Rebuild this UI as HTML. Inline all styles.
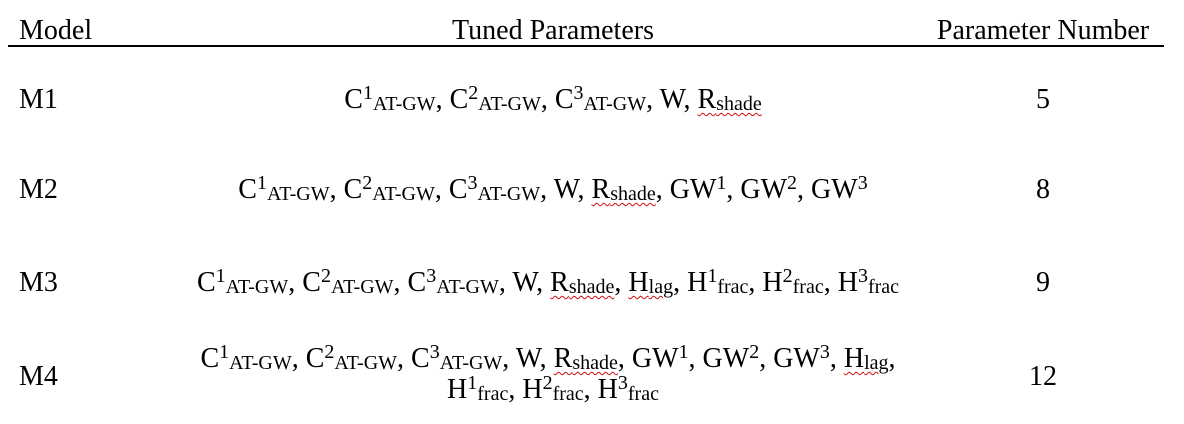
<!DOCTYPE html>
<html><head><meta charset="utf-8">
<style>
body{margin:0;width:1184px;height:424px;background:#fff;font-family:"Liberation Serif",serif;color:#000;position:relative;overflow:hidden}
.t{position:absolute;font-size:28px;white-space:nowrap;line-height:30px}
.c{transform:translateX(-50%);text-align:center}
sub{font-size:20px;vertical-align:-2px;line-height:0}
sup{font-size:20px;vertical-align:9px;line-height:0}
.sq{text-decoration:underline wavy #d01010;text-decoration-thickness:1px;text-underline-offset:4px}
#rule{position:absolute;left:8px;top:45px;width:1156px;height:2px;background:#000}
</style></head><body>
<div class="t" style="left:19px;top:16px">Model</div>
<div class="t c" style="left:553px;top:16px">Tuned Parameters</div>
<div class="t c" style="left:1043px;top:16px">Parameter Number</div>
<div id="rule"></div>

<div class="t" style="left:19px;top:85px">M1</div>
<div class="t c" style="left:553px;top:85px">C<sup>1</sup><sub>AT-GW</sub>, C<sup>2</sup><sub>AT-GW</sub>, C<sup>3</sup><sub>AT-GW</sub>, W, <span class="sq">R<sub>shade</sub></span></div>
<div class="t c" style="left:1043px;top:85px">5</div>

<div class="t" style="left:19px;top:175px">M2</div>
<div class="t c" style="left:553px;top:175px">C<sup>1</sup><sub>AT-GW</sub>, C<sup>2</sup><sub>AT-GW</sub>, C<sup>3</sup><sub>AT-GW</sub>, W, <span class="sq">R<sub>shade</sub></span>, GW<sup>1</sup>, GW<sup>2</sup>, GW<sup>3</sup></div>
<div class="t c" style="left:1043px;top:175px">8</div>

<div class="t" style="left:19px;top:268px">M3</div>
<div class="t c" style="left:548px;top:268px">C<sup>1</sup><sub>AT-GW</sub>, C<sup>2</sup><sub>AT-GW</sub>, C<sup>3</sup><sub>AT-GW</sub>, W, <span class="sq">R<sub>shade</sub></span>, <span class="sq">H<sub>lag</sub></span>, H<sup>1</sup><sub>frac</sub>, H<sup>2</sup><sub>frac</sub>, H<sup>3</sup><sub>frac</sub></div>
<div class="t c" style="left:1043px;top:268px">9</div>

<div class="t" style="left:19px;top:362px">M4</div>
<div class="t c" style="left:548px;top:344px">C<sup>1</sup><sub>AT-GW</sub>, C<sup>2</sup><sub>AT-GW</sub>, C<sup>3</sup><sub>AT-GW</sub>, W, <span class="sq">R<sub>shade</sub></span>, GW<sup>1</sup>, GW<sup>2</sup>, GW<sup>3</sup>, <span class="sq">H<sub>lag</sub></span>,</div>
<div class="t c" style="left:553px;top:375px">H<sup>1</sup><sub>frac</sub>, H<sup>2</sup><sub>frac</sub>, H<sup>3</sup><sub>frac</sub></div>
<div class="t c" style="left:1043px;top:362px">12</div>
</body></html>
